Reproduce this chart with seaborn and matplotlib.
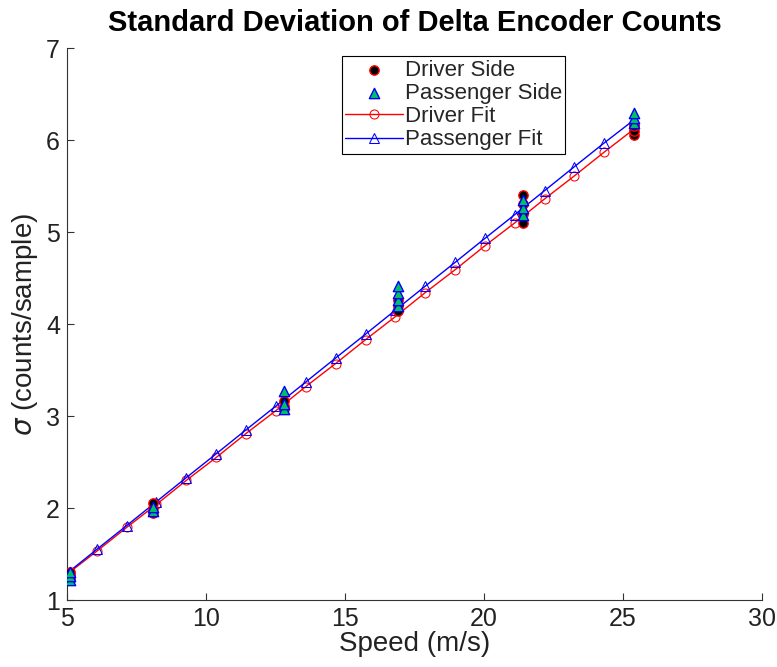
import seaborn as sns
import pandas as pd
from matplotlib import pyplot as plt

# measured speeds and std dev of delta encoder counts
driver_speed = [5.1, 5.1, 5.1, 5.1, 8.1, 8.1, 8.1, 12.8, 12.8, 12.8,
                16.9, 16.9, 16.9, 21.4, 21.4, 21.4, 21.4, 25.4, 25.4, 25.4]
driver_sigma = [1.22, 1.25, 1.28, 1.31, 1.95, 2.00, 2.05, 3.08, 3.11, 3.16,
                4.14, 4.20, 4.26, 5.10, 5.20, 5.30, 5.40, 6.05, 6.10, 6.15]
passenger_speed = [5.1, 5.1, 5.1, 8.1, 8.1, 12.8, 12.8, 12.8,
                   16.9, 16.9, 16.9, 16.9, 21.4, 21.4, 21.4, 25.4, 25.4, 25.4]
passenger_sigma = [1.22, 1.26, 1.30, 1.97, 2.01, 3.08, 3.13, 3.27,
                   4.20, 4.26, 4.34, 4.41, 5.18, 5.26, 5.35, 6.19, 6.24, 6.29]

# linear fit evaluation points
fit_speed = [5.00, 6.07, 7.15, 8.22, 9.29, 10.37, 11.44, 12.52, 13.59, 14.66,
             15.74, 16.81, 17.88, 18.96, 20.03, 21.11, 22.18, 23.25, 24.33, 25.40]
driver_fit = [1.28, 1.53, 1.79, 2.04, 2.30, 2.55, 2.81, 3.06, 3.32, 3.57,
              3.83, 4.08, 4.34, 4.59, 4.85, 5.10, 5.36, 5.61, 5.87, 6.12]
passenger_fit = [1.29, 1.55, 1.81, 2.07, 2.33, 2.59, 2.85, 3.11, 3.37, 3.63,
                 3.89, 4.15, 4.41, 4.67, 4.93, 5.19, 5.45, 5.71, 5.97, 6.22]

df_d = pd.DataFrame({"speed": driver_speed, "sigma": driver_sigma})
df_p = pd.DataFrame({"speed": passenger_speed, "sigma": passenger_sigma})
df_df = pd.DataFrame({"speed": fit_speed, "sigma": driver_fit})
df_pf = pd.DataFrame({"speed": fit_speed, "sigma": passenger_fit})

sns.set_style("ticks")
plt.rcParams['font.family'] = ['Liberation Sans', 'DejaVu Sans']
plt.rcParams['xtick.direction'] = 'in'
plt.rcParams['ytick.direction'] = 'in'

fig = plt.figure(figsize=(7.77, 6.67), dpi=100)
ax = fig.add_axes([0.0862, 0.1004, 0.8945, 0.8276])

sns.scatterplot(data=df_d, x="speed", y="sigma", ax=ax, color="black",
                edgecolor="red", linewidth=1, s=45, marker="o", label="Driver Side", zorder=3)
sns.scatterplot(data=df_p, x="speed", y="sigma", ax=ax, color="#00c060",
                edgecolor="blue", linewidth=1, s=55, marker="^", label="Passenger Side", zorder=3)
sns.lineplot(data=df_df, x="speed", y="sigma", ax=ax, color="red", linewidth=1,
             marker="o", markersize=6.5, markerfacecolor="none", markeredgecolor="red",
             label="Driver Fit", zorder=2)
sns.lineplot(data=df_pf, x="speed", y="sigma", ax=ax, color="blue", linewidth=1,
             marker="^", markersize=7.5, markerfacecolor="none", markeredgecolor="blue",
             label="Passenger Fit", zorder=2)

ax.set_xlim(5, 30)
ax.set_ylim(1, 7)
ax.set_xticks([5, 10, 15, 20, 25, 30])
ax.set_yticks([1, 2, 3, 4, 5, 6, 7])
ax.tick_params(labelsize=18, length=5, width=0.8, color="#333333", labelcolor="#222222", pad=5)
for side in ["left", "bottom"]:
    ax.spines[side].set_linewidth(0.8)
    ax.spines[side].set_color("#333333")
sns.despine(ax=ax)

ax.set_title("Standard Deviation of Delta Encoder Counts", fontsize=21, fontweight="bold",
             color="black", pad=12)
ax.set_xlabel("Speed (m/s)", fontsize=20, color="#222222", labelpad=0)
ax.set_ylabel(r"$\sigma$ (counts/sample)", fontsize=20, color="#222222", labelpad=4)

leg = ax.legend(loc="upper left", bbox_to_anchor=(0.395, 0.985), fontsize=16,
                frameon=True, fancybox=False, edgecolor="black", framealpha=1,
                handletextpad=0.1, borderpad=0.15, labelspacing=0.1, handlelength=2.6,
                borderaxespad=0)
leg.get_frame().set_linewidth(0.8)

plt.savefig("out.png", dpi=100)
